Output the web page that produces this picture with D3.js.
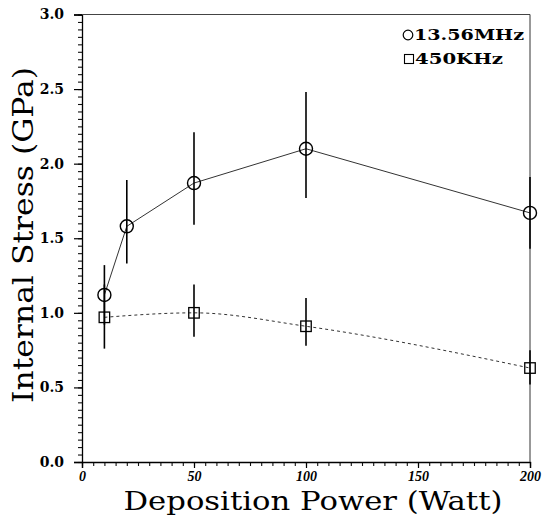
<!DOCTYPE html>
<html>
<head>
<meta charset="utf-8">
<script src="https://cdn.jsdelivr.net/npm/d3@7"></script>
<style>
  body { margin: 0; background: #fff; }
  svg { display: block; }
</style>
</head>
<body>
<div id="chart"></div>
<script>
// -----------------------------------------------------------------------------
// Data
// -----------------------------------------------------------------------------

var rfPower = [10, 20, 50, 100, 200];
var rfStress = [1.12, 1.58, 1.87, 2.10, 1.67];
var rfErrLow = [0.92, 1.33, 1.59, 1.77, 1.43];
var rfErrHigh = [1.32, 1.89, 2.21, 2.48, 1.91];

var lfPower = [10, 50, 100, 200];
var lfStress = [0.97, 1.00, 0.91, 0.63];
var lfErrLow = [0.76, 0.84, 0.78, 0.52];
var lfErrHigh = [1.19, 1.19, 1.10, 0.75];

var xMajorTicks = [0, 50, 100, 150, 200];
var yMajorTicks = [0.0, 0.5, 1.0, 1.5, 2.0, 2.5, 3.0];
var legendLabels = ["13.56MHz", "450KHz"];

// -----------------------------------------------------------------------------
// Chart
// -----------------------------------------------------------------------------

var WIDTH = 545;
var HEIGHT = 517;

var xScale = d3.scaleLinear().domain([0, 200]).range([82, 530]);
var yScale = d3.scaleLinear().domain([0, 3]).range([462, 14.5]);

var svg = d3.select("#chart").append("svg")
    .attr("width", WIDTH)
    .attr("height", HEIGHT);

var xMinor = d3.range(0, 201, 5);
var yMinor = d3.range(0, 61).map(function(i) { return +(i * 0.05).toFixed(2); });

// minor ticks
svg.append("g")
    .attr("transform", "translate(0," + yScale(0) + ")")
    .call(d3.axisBottom(xScale).tickValues(xMinor).tickSize(4).tickFormat(""))
    .call(function(g) { g.select(".domain").remove(); })
    .selectAll("line").attr("stroke", "#111").attr("stroke-width", 1.1);

svg.append("g")
    .attr("transform", "translate(" + xScale(0) + ",0)")
    .call(d3.axisLeft(yScale).tickValues(yMinor).tickSize(4).tickFormat(""))
    .call(function(g) { g.select(".domain").remove(); })
    .selectAll("line").attr("stroke", "#111").attr("stroke-width", 1.1);

// major ticks + labels
var xAxis = svg.append("g")
    .attr("transform", "translate(0," + yScale(0) + ")")
    .call(d3.axisBottom(xScale).tickValues(xMajorTicks).tickSize(6).tickPadding(3)
        .tickFormat(d3.format("d")));
xAxis.select(".domain").attr("stroke", "#000").attr("stroke-width", 1.3);
xAxis.selectAll("line").attr("stroke", "#000").attr("stroke-width", 1.2);
xAxis.selectAll("text")
    .attr("font-family", "Liberation Serif")
    .attr("font-style", "italic")
    .attr("font-weight", "bold")
    .attr("font-size", 14)
    .attr("fill", "#000");

var yAxis = svg.append("g")
    .attr("transform", "translate(" + xScale(0) + ",0)")
    .call(d3.axisLeft(yScale).tickValues(yMajorTicks).tickSize(8).tickPadding(10)
        .tickFormat(d3.format(".1f")));
yAxis.select(".domain").attr("stroke", "#000").attr("stroke-width", 1.3);
yAxis.selectAll("line").attr("stroke", "#000").attr("stroke-width", 1.2);
yAxis.selectAll("text")
    .attr("font-family", "DejaVu Serif")
    .attr("font-weight", "bold")
    .attr("font-size", 14)
    .attr("fill", "#000");

// frame top and right
svg.append("line")
    .attr("x1", xScale(0)).attr("x2", xScale(200))
    .attr("y1", yScale(3)).attr("y2", yScale(3))
    .attr("stroke", "#444").attr("stroke-width", 1);
svg.append("line")
    .attr("x1", xScale(200)).attr("x2", xScale(200))
    .attr("y1", yScale(3)).attr("y2", yScale(0))
    .attr("stroke", "#333").attr("stroke-width", 1);

// series
var rfData = rfPower.map(function(p, i) {
  return {x: p, y: rfStress[i], lo: rfErrLow[i], hi: rfErrHigh[i]};
});
var lfData = lfPower.map(function(p, i) {
  return {x: p, y: lfStress[i], lo: lfErrLow[i], hi: lfErrHigh[i]};
});

var lineStraight = d3.line()
    .x(function(d) { return xScale(d.x); })
    .y(function(d) { return yScale(d.y); });

var lineSmooth = d3.line()
    .curve(d3.curveMonotoneX)
    .x(function(d) { return xScale(d.x); })
    .y(function(d) { return yScale(d.y); });

svg.append("path")
    .datum(rfData)
    .attr("d", lineStraight)
    .attr("fill", "none")
    .attr("stroke", "#333")
    .attr("stroke-width", 1);

svg.append("path")
    .datum(lfData)
    .attr("d", lineSmooth)
    .attr("fill", "none")
    .attr("stroke", "#333")
    .attr("stroke-width", 1)
    .attr("stroke-dasharray", "3,3");

function drawErrorBars(data) {
  svg.append("g").selectAll("line")
      .data(data)
    .enter().append("line")
      .attr("x1", function(d) { return xScale(d.x); })
      .attr("x2", function(d) { return xScale(d.x); })
      .attr("y1", function(d) { return yScale(d.lo); })
      .attr("y2", function(d) { return yScale(d.hi); })
      .attr("stroke", "#000")
      .attr("stroke-width", 1.6);
}
drawErrorBars(rfData);
drawErrorBars(lfData);

svg.append("g").selectAll("circle")
    .data(rfData)
  .enter().append("circle")
    .attr("cx", function(d) { return xScale(d.x); })
    .attr("cy", function(d) { return yScale(d.y); })
    .attr("r", 6.5)
    .attr("fill", "none")
    .attr("stroke", "#000")
    .attr("stroke-width", 1.4);

var sq = 10.5;
svg.append("g").selectAll("rect")
    .data(lfData)
  .enter().append("rect")
    .attr("x", function(d) { return xScale(d.x) - sq / 2; })
    .attr("y", function(d) { return yScale(d.y) - sq / 2; })
    .attr("width", sq)
    .attr("height", sq)
    .attr("fill", "none")
    .attr("stroke", "#000")
    .attr("stroke-width", 1.3);

// legend
svg.append("circle")
    .attr("cx", 408).attr("cy", 35).attr("r", 4.8)
    .attr("fill", "none").attr("stroke", "#000").attr("stroke-width", 1.2);
svg.append("rect")
    .attr("x", 404.5).attr("y", 54.5).attr("width", 9).attr("height", 9)
    .attr("fill", "none").attr("stroke", "#000").attr("stroke-width", 1.1);

svg.append("text")
    .attr("x", 414).attr("y", 40)
    .attr("textLength", 110).attr("lengthAdjust", "spacingAndGlyphs")
    .attr("font-family", "DejaVu Serif").attr("font-weight", "bold")
    .attr("font-size", 14)
    .text(legendLabels[0]);
svg.append("text")
    .attr("x", 415).attr("y", 64)
    .attr("textLength", 88).attr("lengthAdjust", "spacingAndGlyphs")
    .attr("font-family", "DejaVu Serif").attr("font-weight", "bold")
    .attr("font-size", 14)
    .text(legendLabels[1]);

// axis titles
svg.append("text")
    .attr("x", 313).attr("y", 510)
    .attr("text-anchor", "middle")
    .attr("textLength", 379).attr("lengthAdjust", "spacingAndGlyphs")
    .attr("font-family", "DejaVu Serif")
    .attr("font-size", 26)
    .text("Deposition Power (Watt)");

svg.append("text")
    .attr("transform", "translate(33,235) rotate(-90)")
    .attr("text-anchor", "middle")
    .attr("textLength", 336).attr("lengthAdjust", "spacingAndGlyphs")
    .attr("font-family", "DejaVu Serif")
    .attr("font-size", 28)
    .text("Internal Stress (GPa)");
</script>
</body>
</html>
